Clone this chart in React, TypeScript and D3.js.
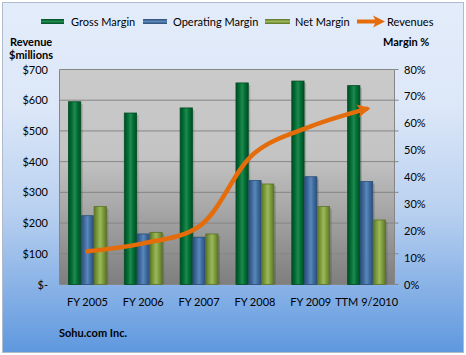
import React from "react";
import * as d3 from "d3";

const categories = ["FY 2005", "FY 2006", "FY 2007", "FY 2008", "FY 2009", "TTM 9/2010"];
const grossMargin = [68, 63.8, 65.7, 75, 75.7, 74];
const operatingMargin = [25.6, 18.8, 17.6, 38.7, 40.1, 38.3];
const netMargin = [29, 19.4, 18.8, 37.4, 29, 24];
const revenues = [108, 134, 189, 429, 515, 572];
const revenueTicks = [0, 100, 200, 300, 400, 500, 600, 700];
const marginTicks = [0, 10, 20, 30, 40, 50, 60, 70, 80];

const W = 466, H = 355;
const L = 59.5, R = 394.5, T = 69.5, B = 284.5;
const FONT = "Lato, 'Open Sans', sans-serif";

const seriesInfo = [
  { name: "Gross Margin", values: grossMargin, fill: "#006B33", light: "#1E8A4E", dark: "#004D24" },
  { name: "Operating Margin", values: operatingMargin, fill: "#3C6A9E", light: "#5B86B8", dark: "#2B4E78" },
  { name: "Net Margin", values: netMargin, fill: "#7C9A3C", light: "#9BB85A", dark: "#5C7428" },
];

export default function App() {
  const x = d3.scaleBand<string>().domain(categories).range([L, R]).paddingInner(0).paddingOuter(0);
  const yRev = d3.scaleLinear().domain([0, 700]).range([B, T]);
  const yPct = d3.scaleLinear().domain([0, 80]).range([B, T]);
  const barW = 12.3;
  const groupW = barW * 3 + 1;

  const line = d3
    .line<number>()
    .x((_, i) => x(categories[i])! + x.bandwidth() / 2)
    .y((d) => yRev(d))
    .curve(d3.curveCatmullRom.alpha(0.5));

  const lastX = x(categories[5])! + x.bandwidth() / 2;
  const lastY = yRev(revenues[5]);
  const prevX = x(categories[4])! + x.bandwidth() / 2;
  const prevY = yRev(revenues[4]);
  const ang = Math.atan2(lastY - prevY, lastX - prevX) * 0.75;

  return (
    <svg width={W} height={H} style={{ position: "absolute", left: 0, top: 0 }}>
      <defs>
        <linearGradient id="bg" x1="0" y1="0" x2="0" y2="1">
          <stop offset="0" stopColor="#E3ECFA" />
          <stop offset="0.3" stopColor="#DCE7F8" />
          <stop offset="0.6" stopColor="#B8D0F0" />
          <stop offset="1" stopColor="#5F98DE" />
        </linearGradient>
        <linearGradient id="plot" x1="0" y1="0" x2="0" y2="1">
          <stop offset="0" stopColor="#CACACA" />
          <stop offset="0.4" stopColor="#C4C4C4" />
          <stop offset="1" stopColor="#7E7E7E" />
        </linearGradient>
        {seriesInfo.map((s, i) => (
          <linearGradient key={i} id={"bar" + i} x1="0" y1="0" x2="1" y2="0">
            <stop offset="0" stopColor={s.dark} />
            <stop offset="0.25" stopColor={s.fill} />
            <stop offset="0.5" stopColor={s.light} />
            <stop offset="0.75" stopColor={s.fill} />
            <stop offset="1" stopColor={s.dark} />
          </linearGradient>
        ))}
        {seriesInfo.map((s, i) => (
          <linearGradient key={"l" + i} id={"leg" + i} x1="0" y1="0" x2="0" y2="1">
            <stop offset="0" stopColor={s.dark} />
            <stop offset="0.5" stopColor={s.light} />
            <stop offset="1" stopColor={s.dark} />
          </linearGradient>
        ))}
      </defs>
      <rect x={2.5} y={2.5} width={461} height={350} fill="url(#bg)" stroke="#B0BCCC" />

      {/* legend */}
      <g fontFamily={FONT} fontSize={11} fill="#000">
        <rect x={41} y={19} width={23} height={5} fill="url(#leg0)" />
        <text x={71} y={25.5}>Gross Margin</text>
        <rect x={143} y={19} width={24} height={5} fill="url(#leg1)" />
        <text x={173} y={25.5}>Operating Margin</text>
        <rect x={265} y={19} width={25} height={5} fill="url(#leg2)" />
        <text x={295} y={25.5}>Net Margin</text>
        <line x1={357} y1={21.5} x2={378} y2={21.5} stroke="#E46C0A" strokeWidth={4} />
        <path d="M373,15.5 L385,21.5 L373,27.5 L376,21.5 Z" fill="#E46C0A" />
        <text x={387} y={25.5}>Revenues</text>
      </g>

      {/* axis titles */}
      <g fontFamily={FONT} fontSize={11} fontWeight="bold" fill="#000">
        <text x={10} y={46}>Revenue</text>
        <text x={9} y={59}>$millions</text>
        <text x={383} y={46}>Margin %</text>
      </g>

      {/* plot */}
      <rect x={L} y={T} width={R - L} height={B - T} fill="url(#plot)" />
      {revenueTicks.map((t) => (
        <line key={t} x1={L} x2={R} y1={yRev(t)} y2={yRev(t)} stroke="#868686" strokeWidth={1} />
      ))}
      <line x1={L} x2={L} y1={T} y2={B} stroke="#868686" />
      <line x1={R} x2={R} y1={T} y2={B} stroke="#868686" />
      {revenueTicks.map((t) => (
        <line key={"r" + t} x1={R} x2={R + 4} y1={yRev(t)} y2={yRev(t)} stroke="#868686" />
      ))}

      {/* bars */}
      {categories.map((c, ci) => {
        const gx = x(c)! + x.bandwidth() / 2 - groupW / 2;
        return (
          <g key={c}>
            {seriesInfo.map((s, si) => {
              const bx = gx + si * (barW + 0.5);
              const y0 = yPct(s.values[ci]);
              return (
                <g key={si}>
                  <rect x={bx + 2} y={y0 + 2} width={barW} height={B - y0 - 2} fill="#000" opacity={0.15} />
                  <rect x={bx} y={y0} width={barW} height={B - y0} fill={"url(#bar" + si + ")"} stroke={s.dark} strokeWidth={0.8} />
                </g>
              );
            })}
          </g>
        );
      })}

      {/* revenue line */}
      <path d={line(revenues.slice(0, 5).concat([revenues[5]]))!} fill="none" stroke="#E46C0A" strokeWidth={4.5} strokeLinecap="round" />
      <g transform={`translate(${lastX},${lastY}) rotate(${(ang * 180) / Math.PI})`}>
        <path d="M4,0 L-9,-6.5 L-6,0 L-9,6.5 Z" fill="#E46C0A" />
      </g>

      {/* axis labels */}
      <g fontFamily={FONT} fontSize={11} fill="#000">
        {revenueTicks.map((t) => (
          <text key={t} x={48} y={yRev(t) + 4} textAnchor="end">
            {t === 0 ? "$-" : "$" + t}
          </text>
        ))}
        {marginTicks.map((t) => (
          <text key={t} x={404} y={yPct(t) + 4}>
            {t + "%"}
          </text>
        ))}
        {categories.map((c) => (
          <text key={c} x={x(c)! + x.bandwidth() / 2} y={306} textAnchor="middle">
            {c}
          </text>
        ))}
      </g>
      <text x={59} y={337} fontFamily={FONT} fontSize={11} fontWeight="bold" fill="#000">
        Sohu.com Inc.
      </text>
    </svg>
  );
}
